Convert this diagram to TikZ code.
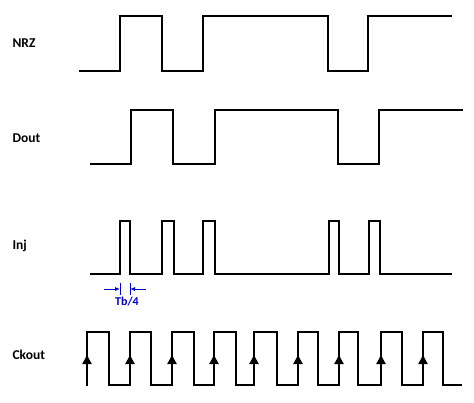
\documentclass[tikz,border=0pt]{standalone}
\usepackage{fontspec}
\setmainfont{Carlito}
\usetikzlibrary{arrows.meta}
\begin{document}
\begin{tikzpicture}[x=1pt,y=-1pt,
  wave/.style={line width=2pt,line join=miter},
  lbl/.style={font=\bfseries\fontsize{13.5}{15}\selectfont,anchor=west},
  dim/.style={blue!80!black,line width=0.8pt,-{Latex[length=5pt,width=4pt]}},
  clkarrow/.style={-{Triangle[length=9pt,width=9pt]},line width=2pt}]
\useasboundingbox (0,0) rectangle (474,402);
\node[lbl] (nrz) at (9,43) {NRZ};
\node[lbl] (dout) at (9,138) {Dout};
\node[lbl] (inj) at (9,246) {Inj};
\node[lbl] (ck) at (9,355) {Ckout};
\draw[wave] (79,71) -- (120,71) -- (120,16) -- (162,16) -- (162,71) -- (203,71) -- (203,16) -- (328,16) -- (328,71) -- (368,71) -- (368,16) -- (452,16);
\draw[wave] (90,164) -- (131,164) -- (131,110) -- (173,110) -- (173,164) -- (215,164) -- (215,110) -- (338,110) -- (338,164) -- (379,164) -- (379,110) -- (463,110);
\draw[wave] (90,274) -- (120,274) -- (120,221) -- (130,221) -- (130,274) -- (162,274) -- (162,221) -- (174,221) -- (174,274) -- (203,274) -- (203,221) -- (215,221) -- (215,274) -- (329,274) -- (329,221) -- (339,221) -- (339,274) -- (369,274) -- (369,221) -- (380,221) -- (380,274) -- (452,274);
\draw[wave] (87,386) -- (87,332) -- (109,332) -- (109,385)
  \foreach \r/\f in {130/151,172/194,214/236,254/277,298/318,339/358,381/402,423/443}{ -- (\r,385) -- (\r,332) -- (\f,332) -- (\f,385)} -- (462,385);
\foreach \r [count=\i] in {87,130,172,214,254,298,339,381,423}{
  \coordinate (a\i) at (\r,372);
  \coordinate (b\i) at (\r,355);
  \draw[clkarrow] (a\i) -- (b\i);
}
\coordinate (d1) at (104,289);
\coordinate (d2) at (120,289);
\coordinate (d3) at (146,289);
\coordinate (d4) at (130,289);
\draw[dim] (d1) -- (d2);
\draw[dim] (d3) -- (d4);
\draw[blue!80!black,line width=0.6pt] (120,283) -- (120,295) (130,283) -- (130,295);
\node[font=\bfseries\fontsize{12}{13}\selectfont,text=blue!80!black] (tb) at (127,302) {Tb/4};
\end{tikzpicture}
\end{document}
